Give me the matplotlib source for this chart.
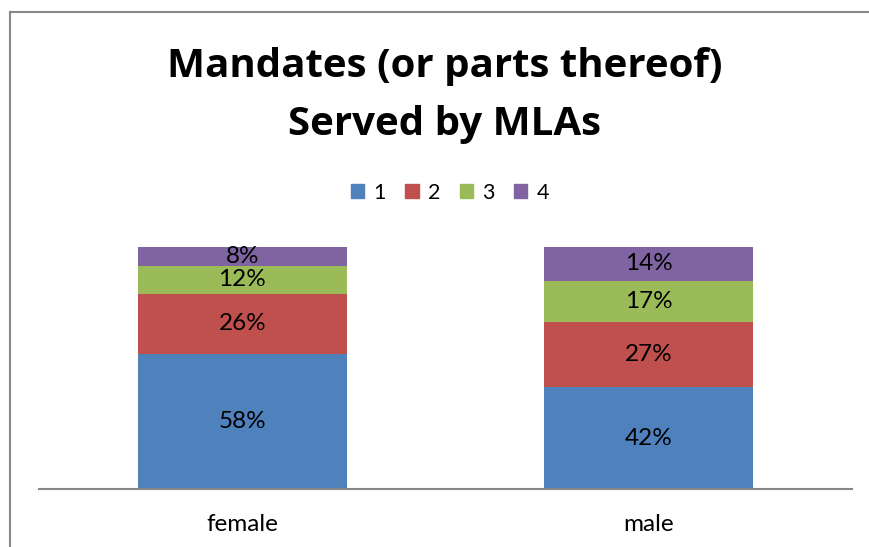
import numpy as np
import matplotlib.pyplot as plt
from matplotlib.lines import Line2D
from matplotlib.patches import Patch

categories = ["female", "male"]
series = ["1", "2", "3", "4"]
labels_female = [58, 26, 12, 8]
labels_male = [42, 27, 17, 14]
colors = ["#4F81BD", "#C0504D", "#9BBB59", "#8064A2"]

plt.rcParams['font.family'] = ['Lato', 'DejaVu Sans']

W, H = 869, 547
fig = plt.figure(figsize=(W / 100, H / 100), dpi=100)
ax = fig.add_axes([39 / W, 1 - 489 / H, (852 - 39) / W, (489 - 247) / H])

vals = np.array([labels_female, labels_male], dtype=float)
shares = vals / vals.sum(axis=1, keepdims=True)  # 100% stacked
x = np.arange(len(categories))
bottom = np.zeros(len(categories))
for j, name in enumerate(series):
    bars = ax.bar(x, shares[:, j], 0.514, bottom=bottom, color=colors[j], label=name)
    for i, b in enumerate(bars):
        ax.text(b.get_x() + b.get_width() / 2, bottom[i] + shares[i, j] / 2,
                "%d%%" % vals[i, j], ha="center", va="center", fontsize=17.5, color="black")
    bottom += shares[:, j]

ax.set_xlim(-0.5, 1.5)
ax.set_ylim(0, 1)
ax.set_yticks([])
ax.set_xticks(x)
ax.set_xticklabels(categories, fontsize=17.5)
ax.tick_params(axis="x", length=0, pad=18)
for s in ["top", "right", "left"]:
    ax.spines[s].set_visible(False)
ax.spines["bottom"].set_color("#888888")
ax.spines["bottom"].set_linewidth(1.5)

# title, two lines placed by baseline
title_font = dict(ha="center", va="baseline", fontsize=29, fontweight="bold",
                  family=["Open Sans", "DejaVu Sans"])
fig.text(445 / W, 1 - 77 / H, "Mandates (or parts thereof)", **title_font)
fig.text(445 / W, 1 - 135 / H, "Served by MLAs", **title_font)

handles = [Patch(color=c) for c in colors]
fig.legend(handles, series, loc="center", bbox_to_anchor=(450 / W, 1 - 193 / H), ncol=4,
           frameon=False, fontsize=15.5, handlelength=0.62, handleheight=0.62,
           handletextpad=0.43, columnspacing=0.9)

fig.add_artist(Line2D([10 / W, 1], [1 - 12 / H, 1 - 12 / H], color="#888888", lw=1.5))
fig.add_artist(Line2D([10 / W, 10 / W], [0, 1 - 12 / H], color="#888888", lw=1.5))

fig.savefig("out.png", dpi=100)
